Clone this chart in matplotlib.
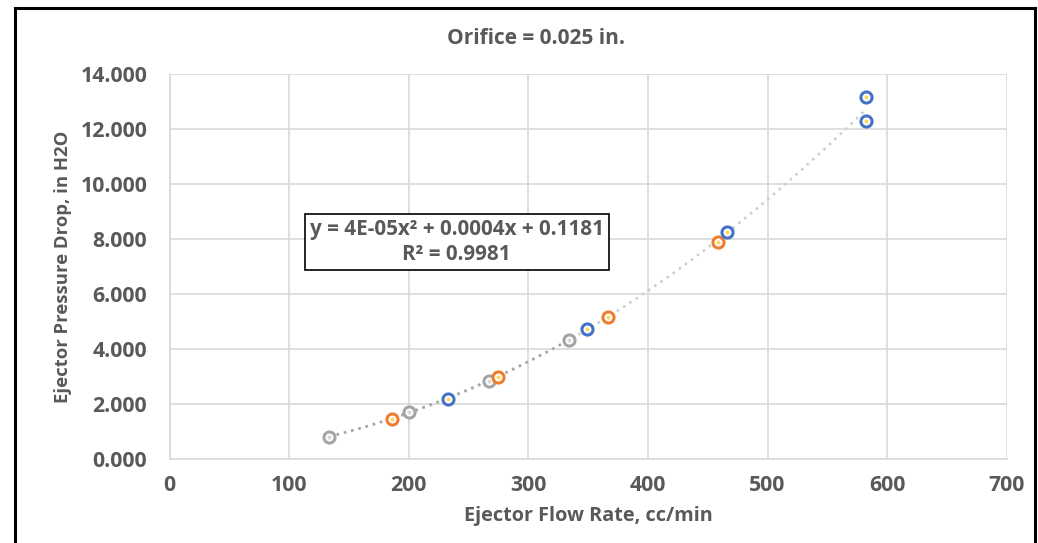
import numpy as np
import matplotlib
matplotlib.use('Agg')
from matplotlib import pyplot as plt

# data
gray_x = [133.6, 200.0, 267.1, 334.0]
gray_y = [0.80, 1.69, 2.84, 4.33]
orange_x = [186.0, 274.7, 366.6, 458.6]
orange_y = [1.445, 2.98, 5.16, 7.90]
blue_x = [233.1, 349.3, 466.1, 582.4, 582.4]
blue_y = [2.16, 4.72, 8.25, 13.16, 12.29]

x_ticks = [0, 100, 200, 300, 400, 500, 600, 700]
y_ticks = [0, 2, 4, 6, 8, 10, 12, 14]

title = 'Orifice = 0.025 in.'
xlabel = 'Ejector Flow Rate, cc/min'
ylabel = 'Ejector Pressure Drop, in H2O'
eq_text = 'y = 4E-05x² + 0.0004x + 0.1181\nR² = 0.9981'

txt = '#595959'
plt.rcParams['font.family'] = ['Open Sans', 'DejaVu Sans']
plt.rcParams['font.weight'] = 'bold'

fig = plt.figure(figsize=(10.38, 5.43), dpi=100)
ax = fig.add_axes([0.1633, 0.1553, 0.8066, 0.7084])

# outer chart border (bottom edge is cut off in the reference)
fig.add_artist(plt.Line2D([0.0145, 0.0145], [0, 0.985], color='black', lw=2.2, transform=fig.transFigure))
fig.add_artist(plt.Line2D([0.997, 0.997], [0, 0.985], color='black', lw=2.2, transform=fig.transFigure))
fig.add_artist(plt.Line2D([0.0145, 0.997], [0.985, 0.985], color='black', lw=2.2, transform=fig.transFigure))

# trendlines
all_x = np.array(gray_x + orange_x + blue_x)
all_y = np.array(gray_y + orange_y + blue_y)
c_all = np.polyfit(all_x, all_y, 2)
xx = np.linspace(all_x.min(), all_x.max(), 200)
ax.plot(xx, np.polyval(c_all, xx), ls=(0, (1, 2)), color='#CCCCCC', lw=1.8, zorder=2)
c_gray = np.polyfit(gray_x, gray_y, 2)
xg = np.linspace(min(gray_x), max(gray_x), 100)
ax.plot(xg, np.polyval(c_gray, xg), ls=(0, (1, 2)), color='#A5A5A5', lw=1.8, zorder=2)

for xs, ys, col, dot in [(gray_x, gray_y, '#A5A5A5', '#D9D9D9'),
                         (orange_x, orange_y, '#ED7D31', '#FFD966'),
                         (blue_x, blue_y, '#4472C4', '#FFD966')]:
    ax.plot(xs, ys, 'o', ms=8, mfc='white', mec=col, mew=2.2, ls='none', zorder=3)
    ax.plot(xs, ys, 'o', ms=2, color=dot, ls='none', zorder=4)

ax.set_xlim(0, 700)
ax.set_ylim(0, 14)
ax.set_xticks(x_ticks)
ax.set_yticks(y_ticks)
ax.set_yticklabels(['{:.3f}'.format(v) for v in y_ticks])
ax.grid(True, color='#D9D9D9', lw=1.2)
ax.set_axisbelow(True)
for s in ['top', 'right']:
    ax.spines[s].set_visible(False)
for s in ['left', 'bottom']:
    ax.spines[s].set_color('#D9D9D9')
    ax.spines[s].set_linewidth(1.2)
ax.tick_params(length=0, labelsize=15.3, labelcolor=txt)
ax.tick_params(axis='x', pad=12)
ax.tick_params(axis='y', pad=16)

ax.set_xlabel(xlabel, fontsize=14.3, color=txt, fontweight='bold', labelpad=7)
ax.set_ylabel(ylabel, fontsize=13.3, color=txt, fontweight='bold', labelpad=6)
fig.text(0.516, 0.93, title, ha='center', va='center', fontsize=15, color=txt, fontweight='bold')

ax.text(0.343, 0.563, eq_text, transform=ax.transAxes, ha='center', va='center',
        fontsize=14.9, color=txt, fontweight='bold', linespacing=1.25,
        bbox=dict(boxstyle='square,pad=0.25', fc='white', ec='black', lw=1.2))

fig.savefig('out.png', dpi=100)
